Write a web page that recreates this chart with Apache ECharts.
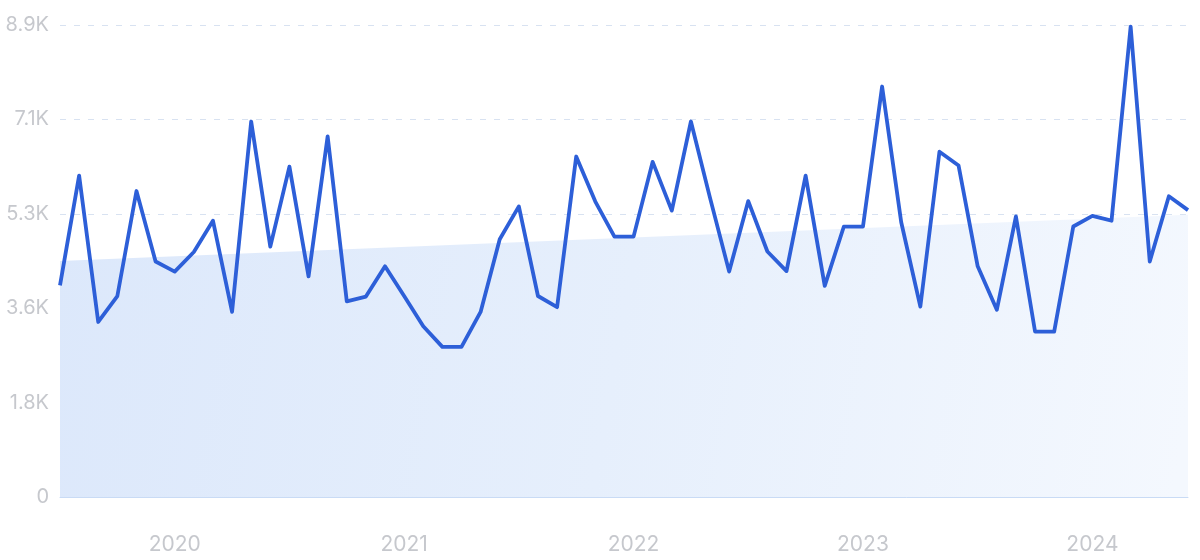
<!DOCTYPE html>
<html>
<head>
<meta charset="utf-8">
<script src="https://cdn.jsdelivr.net/npm/echarts@6/dist/echarts.min.js"></script>
<style>
html,body{margin:0;padding:0;background:#fff;}
#chart{width:1200px;height:560px;}
</style>
</head>
<body>
<div id="chart"></div>
<script>
const months = [
 '2019-07','2019-08','2019-09','2019-10','2019-11','2019-12',
 '2020-01','2020-02','2020-03','2020-04','2020-05','2020-06','2020-07','2020-08','2020-09','2020-10','2020-11','2020-12',
 '2021-01','2021-02','2021-03','2021-04','2021-05','2021-06','2021-07','2021-08','2021-09','2021-10','2021-11','2021-12',
 '2022-01','2022-02','2022-03','2022-04','2022-05','2022-06','2022-07','2022-08','2022-09','2022-10','2022-11','2022-12',
 '2023-01','2023-02','2023-03','2023-04','2023-05','2023-06','2023-07','2023-08','2023-09','2023-10','2023-11','2023-12',
 '2024-01','2024-02','2024-03','2024-04','2024-05','2024-06'
];
const volume = [
 3990, 6060, 3300, 3790, 5770, 4440,
 4250, 4620, 5210, 3490, 7080, 4720, 6230, 4160, 6800, 3690, 3780, 4350,
 3790, 3220, 2830, 2830, 3490, 4860, 5480, 3790, 3580, 6420, 5570, 4910,
 4910, 6320, 5400, 7080, 5640, 4250, 5580, 4630, 4260, 6060, 3980, 5100,
 5100, 7740, 5180, 3590, 6510, 6250, 4350, 3530, 5290, 3120, 3120, 5100,
 5300, 5210, 8870, 4440, 5670, 5410
];
const trendEnds = [4450, 5320];
const yTickLabels = ['0', '1.8K', '3.6K', '5.3K', '7.1K', '8.9K'];
const yMax = 8900;
const yStep = 1780;

const chart = echarts.init(document.getElementById('chart'));
const labelColor = '#c6c8cd';
chart.setOption({
  animation: false,
  grid: { left: 60, right: 12, top: 25, bottom: 63, containLabel: false },
  xAxis: [
    {
      type: 'category',
      data: months,
      boundaryGap: false,
      axisLine: { show: true, lineStyle: { color: '#c9dbf5', width: 1 } },
      axisTick: { show: false },
      splitLine: { show: false },
      axisLabel: {
        interval: function (idx, val) { return val.slice(5) === '01'; },
        formatter: function (val) { return val.slice(0, 4); },
        color: labelColor,
        fontSize: 21,
        fontFamily: 'Inter',
        margin: 37
      }
    },
    {
      type: 'value',
      min: 0,
      max: months.length - 1,
      show: false
    }
  ],
  yAxis: {
    type: 'value',
    min: 0,
    max: yMax,
    interval: yStep,
    axisLine: { show: false },
    axisTick: { show: false },
    splitLine: { show: true, lineStyle: { color: '#d8e2f1', type: [6, 8], width: 1 } },
    axisLabel: {
      formatter: function (v) { return yTickLabels[Math.round(v / yStep)]; },
      color: labelColor,
      fontSize: 20,
      fontFamily: 'Inter',
      margin: 11
    }
  },
  series: [
    {
      type: 'line',
      xAxisIndex: 1,
      data: [[0, trendEnds[0]], [months.length - 1, trendEnds[1]]],
      symbol: 'none',
      lineStyle: { width: 0 },
      areaStyle: {
        opacity: 1,
        color: new echarts.graphic.LinearGradient(0, 0, 1, 0.7, [
          { offset: 0, color: '#dce8fb' },
          { offset: 0.5, color: '#e6effc' },
          { offset: 1, color: '#f4f8fe' }
        ])
      },
      z: 1
    },
    {
      type: 'line',
      data: volume,
      symbol: 'none',
      lineStyle: { color: '#2d5fd8', width: 3.8, join: 'round' },
      z: 3
    }
  ]
});
</script>
</body>
</html>
